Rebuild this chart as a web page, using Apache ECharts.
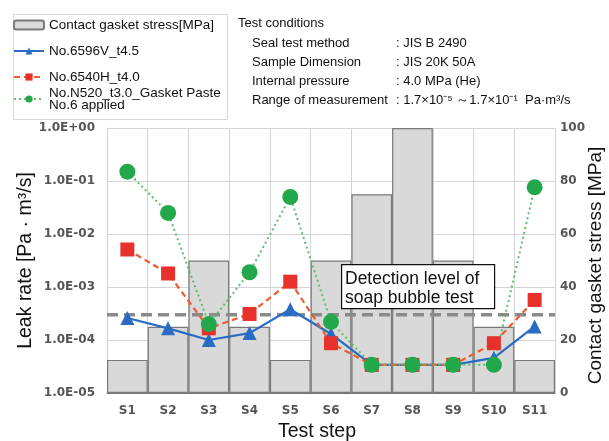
<!DOCTYPE html>
<html>
<head>
<meta charset="utf-8">
<script src="https://cdn.jsdelivr.net/npm/echarts@6/dist/echarts.min.js"></script>
<style>
  html, body { margin: 0; padding: 0; background: #fff; }
  #chart { width: 609px; height: 441px; }
</style>
</head>
<body>
<div id="chart"></div>
<script>
// test steps
const steps = ["S1", "S2", "S3", "S4", "S5", "S6", "S7", "S8", "S9", "S10", "S11"]
// contact gasket stress [MPa]
const stress = [12.5, 25, 50, 25, 12.5, 50, 75, 100, 50, 25, 12.5]
// leak rates [Pa·m3/s]
const leak6596V = [2.6e-4, 1.66e-4, 1.0e-4, 1.35e-4, 3.8e-4, 1.3e-4, 3.4e-5, 3.4e-5, 3.4e-5, 4.6e-5, 1.8e-4]
const leak6540H = [5.1e-3, 1.8e-3, 1.66e-4, 3.1e-4, 1.26e-3, 8.7e-5, 3.4e-5, 3.4e-5, 3.4e-5, 8.7e-5, 5.7e-4]
const leakN520 = [0.15, 0.025, 2.0e-4, 1.9e-3, 0.05, 2.2e-4, 3.4e-5, 3.4e-5, 3.4e-5, 3.4e-5, 0.076]
// soap bubble detection level, drawn across the whole plot
const detectionLevel = 3e-4
const conditions = [
  ["Seal test method", ": JIS B 2490"],
  ["Sample Dimension", ": JIS 20K 50A"],
  ["Internal pressure", ": 4.0 MPa (He)"],
  ["Range of measurement", ": 1.7×10\u207B\u2075 \uFF5E1.7×10\u207B\u00B9  Pa·m\u00B3/s"],
]

const font = "Liberation Sans, Arial, sans-serif"
const tickFont = "DejaVu Sans, sans-serif"
const chart = echarts.init(document.getElementById("chart"))

// 1.0E-05 style tick labels
function expLabel(v) {
  const e = Math.round(Math.log10(v))
  return "1.0E" + (e < 0 ? "-" : "+") + String(Math.abs(e)).padStart(2, "0")
}

const condTexts = [
  { type: "text", left: 238, top: 17, z: 100, style: { text: "Test conditions", font: "13px " + font, fill: "#111" } },
]
conditions.forEach((c, i) => {
  const y = 37 + i * 19
  condTexts.push({ type: "text", left: 252, top: y, z: 100, style: { text: c[0], font: "13px " + font, fill: "#111" } })
  condTexts.push({ type: "text", left: 396, top: y, z: 100, style: { text: c[1], font: "13px " + font, fill: "#111" } })
})

const legendBase = {
  orient: "vertical",
  left: 13,
  padding: 0,
  itemWidth: 30,
  itemHeight: 9,
  textStyle: { fontSize: 13.5, color: "#111" },
}
const tickLabel = { fontFamily: tickFont, fontSize: 12, fontWeight: "bold", color: "#555" }

const option = {
  animation: false,
  textStyle: { fontFamily: font },
  grid: { left: 107, right: 54, top: 128, bottom: 48, outerBoundsMode: "none", containLabel: false },
  legend: [
    Object.assign({}, legendBase, {
      data: ["Contact gasket stress[MPa]", "No.6596V_t4.5", "No.6540H_t4.0"],
      top: 18,
      itemGap: 12,
    }),
    Object.assign({}, legendBase, {
      data: ["No.N520_t3.0_Gasket Paste No.6 applied"],
      top: 86,
      textStyle: { fontSize: 13.5, color: "#111", lineHeight: 12 },
      formatter: (n) => n.replace(" No.6", "\nNo.6"),
    }),
  ],
  xAxis: [
    {
      type: "category",
      data: steps,
      name: "Test step",
      nameLocation: "middle",
      nameGap: 29,
      nameTextStyle: { fontSize: 19.5, color: "#111", padding: [0, 28, 0, 0] },
      axisLine: { lineStyle: { color: "#777" } },
      axisTick: { show: false },
      axisLabel: Object.assign({ margin: 12 }, tickLabel),
      splitLine: { show: true, lineStyle: { color: "#d4d4d4" } },
    },
    { type: "value", min: 0, max: 1, show: false },
  ],
  yAxis: [
    {
      type: "log",
      logBase: 10,
      min: 1e-5,
      max: 1,
      name: "Leak rate [Pa · m\u00B3/s]",
      nameLocation: "middle",
      nameGap: 71,
      nameMoveOverlap: false,
      nameTextStyle: { fontSize: 19.5, color: "#111" },
      axisLine: { show: true, lineStyle: { color: "#d0d0d0" } },
      axisTick: { show: false },
      axisLabel: Object.assign({ formatter: expLabel, margin: 12 }, tickLabel),
      splitLine: { lineStyle: { color: "#d4d4d4" } },
    },
    {
      type: "value",
      min: 0,
      max: 100,
      interval: 20,
      name: "Contact gasket stress [MPa]",
      nameLocation: "middle",
      nameGap: 31,
      nameMoveOverlap: false,
      nameTextStyle: { fontSize: 19, color: "#111", padding: [0, 10, 0, 0] },
      axisLine: { show: false },
      axisTick: { show: false },
      axisLabel: Object.assign({ margin: 5 }, tickLabel),
      splitLine: { show: false },
    },
  ],
  series: [
    {
      name: "Contact gasket stress[MPa]",
      type: "bar",
      yAxisIndex: 1,
      data: stress,
      barCategoryGap: 0,
      itemStyle: { color: "#d9d9d9", borderColor: "#7a7a7a", borderWidth: 1.2 },
    },
    {
      name: "detection",
      type: "line",
      xAxisIndex: 1,
      yAxisIndex: 0,
      data: [[0, detectionLevel], [1, detectionLevel]],
      symbol: "none",
      silent: true,
      lineStyle: { color: "#8a8a8a", width: 3.5, type: [11, 6] },
    },
    {
      name: "No.6596V_t4.5",
      type: "line",
      yAxisIndex: 0,
      data: leak6596V,
      symbol: "triangle",
      symbolSize: 14,
      itemStyle: { color: "#2a6cc4" },
      lineStyle: { width: 2.2, color: "#2a6cc4" },
    },
    {
      name: "No.6540H_t4.0",
      type: "line",
      yAxisIndex: 0,
      data: leak6540H,
      symbol: "rect",
      symbolSize: 14,
      itemStyle: { color: "#e8312b" },
      lineStyle: { width: 2.2, color: "#ef5a30", type: [6, 4] },
    },
    {
      name: "No.N520_t3.0_Gasket Paste No.6 applied",
      type: "line",
      yAxisIndex: 0,
      data: leakN520,
      symbol: "circle",
      symbolSize: 16,
      itemStyle: { color: "#22a84a" },
      lineStyle: { width: 2, color: "#5cc06a", type: [2, 3] },
    },
  ],
  graphic: condTexts.concat([
    {
      type: "rect",
      left: 11,
      top: 12,
      z: -1,
      shape: { x: 0, y: 0, width: 214, height: 105 },
      style: { fill: "none", stroke: "#d8d8d8", lineWidth: 1 },
    },
    {
      type: "rect",
      left: 341,
      top: 264,
      z: 100,
      shape: { x: 0, y: 0, width: 153, height: 44 },
      style: { fill: "#fff", stroke: "#111", lineWidth: 1.2 },
    },
    {
      type: "text",
      left: 345,
      top: 270,
      z: 101,
      style: { text: "Detection level of\nsoap bubble test", font: "17.5px " + font, lineHeight: 19, fill: "#111" },
    },
  ]),
}

chart.setOption(option)
</script>
</body>
</html>
